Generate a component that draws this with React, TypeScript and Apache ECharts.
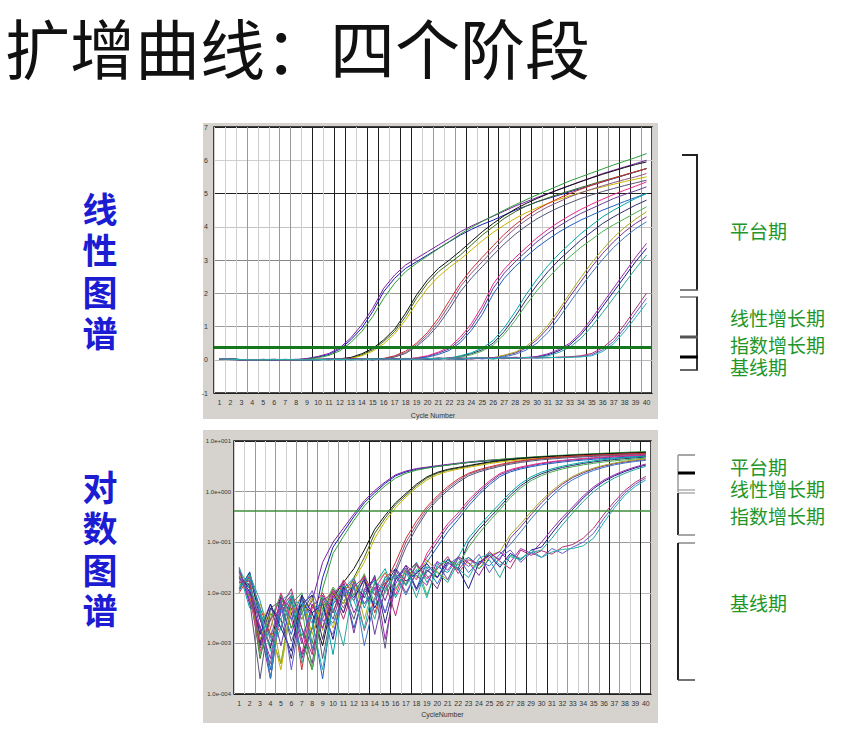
import React, { useEffect, useRef } from "react";
import * as echarts from "echarts";

const cycles = ["1","2","3","4","5","6","7","8","9","10","11","12","13","14","15","16","17","18","19","20","21","22","23","24","25","26","27","28","29","30","31","32","33","34","35","36","37","38","39","40"];

const a1 = [0.025,0.01,0.0009,0.003,0.008,0.004,0.0006,0.002,0.02,0.08,0.16,0.32,0.6,0.95,1.45,2.05,2.45,2.75,2.95,3.15,3.35,3.55,3.75,3.92,4.07,4.2,4.35,4.5,4.62,4.75,4.85,4.95,5.05,5.15,5.25,5.35,5.45,5.55,5.65,5.75];
const a2 = [0.03,0.006,0.002,0.0002,0.005,0.009,0.003,0.007,0.04,0.1,0.19,0.36,0.66,1.05,1.55,2.15,2.55,2.85,3.05,3.25,3.45,3.65,3.85,4.02,4.17,4.32,4.47,4.62,4.75,4.88,5.0,5.12,5.24,5.36,5.48,5.6,5.7,5.8,5.9,6.0];
const a3 = [0.014,0.02,0.004,0.0015,0.0004,0.006,0.01,0.001,0.012,0.06,0.13,0.27,0.52,0.85,1.3,1.85,2.3,2.65,2.9,3.12,3.34,3.56,3.78,3.98,4.16,4.33,4.5,4.66,4.81,4.96,5.1,5.24,5.38,5.5,5.62,5.74,5.86,5.97,6.08,6.2];
const b1 = [0.02,0.012,0.0005,0.004,0.002,0.007,0.0012,0.0003,0.004,0.012,0.006,0.02,0.05,0.15,0.3,0.55,0.85,1.3,1.85,2.3,2.65,2.9,3.15,3.45,3.75,4.0,4.25,4.45,4.62,4.75,4.87,4.98,5.08,5.18,5.28,5.38,5.47,5.56,5.65,5.75];
const b2 = [0.012,0.025,0.003,0.0008,0.009,0.002,0.006,0.004,0.0009,0.008,0.016,0.03,0.07,0.18,0.34,0.6,0.92,1.4,1.95,2.4,2.75,3.0,3.27,3.56,3.85,4.1,4.33,4.53,4.7,4.85,4.99,5.12,5.24,5.36,5.47,5.58,5.68,5.78,5.87,5.95];
const b3 = [0.028,0.008,0.006,0.002,0.0003,0.005,0.008,0.0015,0.007,0.002,0.011,0.018,0.04,0.12,0.26,0.48,0.78,1.2,1.7,2.15,2.5,2.78,3.02,3.3,3.58,3.83,4.05,4.25,4.42,4.57,4.7,4.82,4.93,5.03,5.12,5.2,5.28,5.36,5.43,5.5];
const c1 = [0.018,0.015,0.0012,0.0004,0.006,0.003,0.009,0.0007,0.003,0.012,0.005,0.015,0.0018,0.008,0.02,0.03,0.1,0.22,0.45,0.75,1.15,1.65,2.2,2.6,2.95,3.3,3.65,3.95,4.2,4.42,4.6,4.75,4.9,5.02,5.13,5.23,5.33,5.42,5.5,5.6];
const c2 = [0.01,0.022,0.005,0.0015,0.002,0.008,0.0003,0.005,0.01,0.004,0.018,0.009,0.022,0.004,0.015,0.04,0.12,0.26,0.5,0.82,1.25,1.78,2.3,2.72,3.08,3.43,3.77,4.06,4.31,4.52,4.7,4.86,5.0,5.13,5.25,5.36,5.46,5.56,5.66,5.75];
const c3 = [0.032,0.007,0.0002,0.005,0.007,0.0011,0.004,0.009,0.0005,0.006,0.01,0.003,0.016,0.012,0.0008,0.025,0.08,0.19,0.4,0.68,1.05,1.52,2.05,2.45,2.8,3.15,3.48,3.77,4.02,4.24,4.42,4.58,4.72,4.85,4.96,5.06,5.15,5.24,5.32,5.4];
const d1 = [0.016,0.018,0.002,0.006,0.0009,0.007,0.002,0.0004,0.008,0.003,0.014,0.007,0.02,0.0015,0.012,0.024,0.01,0.025,0.05,0.1,0.2,0.33,0.6,0.98,1.5,2.15,2.6,2.95,3.25,3.55,3.8,4.02,4.22,4.4,4.55,4.7,4.85,4.97,5.08,5.2];
const d2 = [0.022,0.009,0.0007,0.002,0.01,0.003,0.0006,0.006,0.002,0.011,0.004,0.017,0.006,0.012,0.025,0.009,0.03,0.018,0.06,0.12,0.23,0.38,0.68,1.08,1.62,2.28,2.72,3.07,3.37,3.67,3.92,4.14,4.34,4.52,4.68,4.83,4.97,5.1,5.22,5.35];
const d3 = [0.011,0.026,0.004,0.0003,0.005,0.0015,0.008,0.003,0.0002,0.007,0.013,0.002,0.01,0.018,0.004,0.02,0.028,0.012,0.04,0.08,0.16,0.28,0.52,0.88,1.36,1.98,2.45,2.8,3.1,3.38,3.62,3.84,4.03,4.2,4.35,4.5,4.63,4.76,4.88,5.0];
const e1 = [0.02,0.014,0.001,0.005,0.003,0.0005,0.006,0.009,0.0012,0.01,0.004,0.016,0.008,0.022,0.0025,0.018,0.035,0.012,0.028,0.02,0.04,0.03,0.1,0.18,0.3,0.5,0.85,1.3,1.8,2.25,2.65,3.0,3.3,3.6,3.85,4.1,4.3,4.48,4.65,4.8];
const e2 = [0.026,0.005,0.004,0.0002,0.007,0.01,0.0014,0.004,0.007,0.0006,0.012,0.02,0.005,0.015,0.03,0.008,0.022,0.04,0.016,0.033,0.025,0.05,0.12,0.21,0.35,0.58,0.96,1.44,1.96,2.42,2.83,3.18,3.49,3.79,4.05,4.3,4.5,4.68,4.85,5.0];
const e3 = [0.015,0.019,0.0006,0.003,0.009,0.002,0.005,0.0003,0.005,0.013,0.007,0.009,0.024,0.006,0.01,0.027,0.015,0.038,0.009,0.03,0.045,0.035,0.08,0.15,0.26,0.44,0.76,1.18,1.65,2.08,2.46,2.8,3.1,3.38,3.62,3.86,4.06,4.24,4.42,4.6];
const f1 = [0.017,0.011,0.003,0.0009,0.004,0.008,0.0005,0.002,0.009,0.004,0.015,0.0016,0.012,0.019,0.007,0.028,0.014,0.035,0.022,0.012,0.04,0.028,0.05,0.035,0.06,0.045,0.12,0.2,0.35,0.6,0.95,1.4,1.9,2.35,2.8,3.2,3.55,3.85,4.1,4.3];
const f2 = [0.024,0.008,0.0012,0.004,0.0004,0.006,0.003,0.008,0.0018,0.01,0.006,0.02,0.003,0.016,0.025,0.011,0.03,0.02,0.045,0.026,0.018,0.05,0.038,0.03,0.055,0.065,0.14,0.23,0.4,0.67,1.04,1.5,2.0,2.47,2.92,3.32,3.68,3.98,4.23,4.45];
const f3 = [0.013,0.02,0.005,0.0002,0.006,0.003,0.007,0.0008,0.004,0.0025,0.009,0.014,0.0009,0.007,0.018,0.022,0.009,0.026,0.032,0.015,0.036,0.05,0.025,0.042,0.034,0.058,0.09,0.16,0.29,0.5,0.82,1.25,1.72,2.18,2.62,3.02,3.38,3.68,3.94,4.15];
const g1 = [0.019,0.013,0.0015,0.006,0.002,0.0007,0.009,0.004,0.006,0.0012,0.013,0.008,0.018,0.005,0.014,0.03,0.017,0.024,0.038,0.02,0.046,0.03,0.012,0.04,0.055,0.032,0.06,0.045,0.07,0.08,0.15,0.27,0.45,0.75,1.15,1.6,2.05,2.5,2.95,3.35];
const g2 = [0.028,0.007,0.002,0.0005,0.008,0.005,0.001,0.006,0.002,0.009,0.017,0.004,0.011,0.02,0.0012,0.015,0.035,0.022,0.014,0.042,0.028,0.052,0.04,0.022,0.05,0.065,0.04,0.075,0.06,0.1,0.18,0.31,0.5,0.82,1.24,1.7,2.16,2.62,3.08,3.5];
const g3 = [0.012,0.023,0.007,0.0011,0.003,0.009,0.0004,0.002,0.008,0.005,0.0009,0.016,0.01,0.003,0.021,0.012,0.027,0.008,0.033,0.025,0.016,0.04,0.05,0.03,0.045,0.02,0.055,0.048,0.062,0.07,0.12,0.22,0.38,0.64,1.0,1.42,1.86,2.3,2.74,3.15];
const h1 = [0.021,0.009,0.004,0.0013,0.007,0.0003,0.005,0.011,0.003,0.0015,0.01,0.019,0.006,0.013,0.004,0.02,0.031,0.011,0.026,0.04,0.018,0.048,0.033,0.058,0.025,0.05,0.07,0.04,0.062,0.05,0.075,0.06,0.08,0.1,0.15,0.3,0.55,0.95,1.4,1.85];
const h2 = [0.016,0.017,0.0008,0.003,0.005,0.012,0.002,0.0006,0.007,0.01,0.003,0.013,0.021,0.009,0.016,0.0035,0.025,0.038,0.019,0.03,0.052,0.024,0.045,0.036,0.065,0.042,0.03,0.07,0.055,0.068,0.058,0.08,0.09,0.12,0.19,0.36,0.64,1.06,1.53,2.0];
const h3 = [0.03,0.012,0.0045,0.0007,0.002,0.007,0.006,0.0025,0.0003,0.006,0.014,0.007,0.002,0.017,0.011,0.023,0.014,0.029,0.008,0.036,0.044,0.03,0.02,0.048,0.06,0.035,0.052,0.045,0.07,0.05,0.064,0.072,0.075,0.085,0.12,0.25,0.48,0.85,1.27,1.7];

const curves = [a1, a2, a3, b1, b2, b3, c1, c2, c3, d1, d2, d3, e1, e2, e3, f1, f2, f3, g1, g2, g3, h1, h2, h3];

const linearTicks = [-1, 7, 1];
const logTicks = [0.0001, 10];
const thresholdLinear = 0.39;
const thresholdLog = 0.42;

const palette = [
  "#1c1cb0", "#7a1fa2", "#2e9d3a",
  "#3a6b1f", "#111111", "#c8b400",
  "#8a5a8a", "#d22f2f", "#555577",
  "#6a3d9a", "#e7298a", "#1f5fbf",
  "#2c2c70", "#00a6a6", "#4caf50",
  "#7b3294", "#a8a822", "#3b78c4",
  "#1a1a8c", "#9c27b0", "#26a69a",
  "#6a5acd", "#b03070", "#20b2aa",
];

const topDark = [9, 11, 12, 14, 15, 17, 18, 23, 25, 26, 28, 29, 31, 32, 34, 35, 37, 38];
const topMid = [3, 6, 7, 20, 22, 36, 39];
const botDark = [13, 15, 17, 19, 20, 22, 24, 26, 28, 30, 36, 39];
const botMid = [2, 4, 6, 7, 8, 10, 32, 34, 35, 37];

const linearTitleChars = ["线", "性", "图", "谱"];
const linearTitleY = [210, 251, 293, 334];
const logTitleChars = ["对", "数", "图", "谱"];
const logTitleY = [488, 529, 571, 611];

const linearPhases = ["平台期", "线性增长期", "指数增长期", "基线期"];
const linearPhaseY = [232, 319, 346, 368];
const logPhases = ["平台期", "线性增长期", "指数增长期", "基线期"];
const logPhaseY = [468, 490, 517, 604];

function vColors(dark: number[], mid: number[]) {
  const out: string[] = [];
  for (let k = 0; k <= 40; k++) {
    out.push(dark.includes(k) ? "#1e1e1e" : mid.includes(k) ? "#9a9a9a" : "#cfcfcf");
  }
  return out;
}

function logLabel(v: number) {
  const e = Math.round(Math.log10(v));
  const s = e < 0 ? "-" : "+";
  return "1.0e" + s + String(Math.abs(e)).padStart(3, "0");
}

const ln = (x1: number, y1: number, x2: number, y2: number, c: string, w: number) => ({
  type: "line",
  shape: { x1, y1, x2, y2 },
  style: { stroke: c, lineWidth: w },
  silent: true,
});

const greenLabel = (text: string, y: number) => ({
  type: "text",
  x: 730,
  y,
  style: {
    text,
    fontSize: 19,
    lineHeight: 20,
    fontFamily: "Liberation Sans, Noto Sans CJK SC",
    fill: "#23962a",
    verticalAlign: "middle",
    align: "left",
  },
  silent: true,
});

const blueChar = (text: string, y: number) => ({
  type: "text",
  x: 100,
  y,
  style: {
    text,
    fontSize: 35,
    lineHeight: 36,
    fontWeight: "bold",
    fontFamily: "Liberation Sans, Noto Sans CJK SC",
    fill: "#1c1cd2",
    align: "center",
    verticalAlign: "middle",
  },
  silent: true,
});

export default function App() {
  const ref = useRef<HTMLDivElement>(null);
  useEffect(() => {
    if (!ref.current) return;
    const chart = echarts.init(ref.current, null, { renderer: "svg" });
    const axisLabelStyle = { fontSize: 7, color: "#333", fontFamily: "Liberation Sans" };
    const series: any[] = [];
    curves.forEach((c, i) => {
      series.push({
        type: "line",
        xAxisIndex: 0,
        yAxisIndex: 0,
        data: c,
        symbol: "none",
        silent: true,
        lineStyle: { width: 1, color: palette[i] },
        markLine: i === 0 ? {
          symbol: "none",
          silent: true,
          label: { show: false },
          lineStyle: { color: "#16781e", width: 3, type: "solid" },
          data: [{ yAxis: thresholdLinear }],
        } : undefined,
      });
    });
    curves.forEach((c, i) => {
      series.push({
        type: "line",
        xAxisIndex: 2,
        yAxisIndex: 1,
        data: c,
        symbol: "none",
        silent: true,
        lineStyle: { width: 1, color: palette[i] },
        markLine: i === 0 ? {
          symbol: "none",
          silent: true,
          label: { show: false },
          lineStyle: { color: "#3b8f3b", width: 1.5, type: "solid" },
          data: [{ yAxis: thresholdLog }],
        } : undefined,
      });
    });

    const graphics: any[] = [
      { type: "rect", z: -10, shape: { x: 203, y: 123, width: 455, height: 296 }, style: { fill: "#d6d3ce" }, silent: true },
      { type: "rect", z: -10, shape: { x: 203, y: 430, width: 455, height: 293 }, style: { fill: "#d6d3ce" }, silent: true },
      {
        type: "text", x: 5, y: 13,
        style: { text: "扩增曲线：四个阶段", fontSize: 65, fontFamily: "Noto Sans CJK SC", fill: "#111", align: "left", verticalAlign: "top" },
        silent: true,
      },
      ln(682, 155, 698, 155, "#222", 2),
      ln(697, 155, 697, 290, "#222", 2),
      ln(680, 290, 698, 290, "#555", 1.5),
      ln(680, 297, 698, 297, "#777", 1.5),
      ln(697, 297, 697, 370, "#333", 2),
      ln(680, 337, 698, 337, "#555", 3),
      ln(680, 357, 698, 357, "#000", 3),
      ln(680, 370, 698, 370, "#333", 1.5),
      ln(678, 455, 695, 455, "#888", 1.5),
      ln(678, 455, 678, 492, "#999", 1.5),
      ln(678, 473, 695, 473, "#000", 3),
      ln(678, 490, 695, 490, "#999", 1.2),
      ln(678, 493, 695, 493, "#999", 1.2),
      ln(678, 493, 678, 535, "#333", 2),
      ln(678, 535, 695, 535, "#888", 1.5),
      ln(678, 543, 695, 543, "#888", 1.5),
      ln(678, 543, 678, 680, "#222", 2),
      ln(678, 680, 695, 680, "#444", 1.5),
    ];
    linearPhases.forEach((t, i) => graphics.push(greenLabel(t, linearPhaseY[i])));
    logPhases.forEach((t, i) => graphics.push(greenLabel(t, logPhaseY[i])));
    linearTitleChars.forEach((ch, i) => graphics.push(blueChar(ch, linearTitleY[i])));
    logTitleChars.forEach((ch, i) => graphics.push(blueChar(ch, logTitleY[i])));

    chart.setOption({
      animation: false,
      grid: [
        { left: 214, top: 127, width: 438, height: 266, show: true, backgroundColor: "#fff", borderColor: "#111", borderWidth: 1.5 },
        { left: 234, top: 441, width: 417, height: 253, show: true, backgroundColor: "#fff", borderColor: "#111", borderWidth: 1.5 },
      ],
      xAxis: [
        {
          type: "category", gridIndex: 0, data: cycles, boundaryGap: true,
          axisLine: { show: false }, axisTick: { show: false },
          axisLabel: { ...axisLabelStyle, interval: 0, margin: 6 },
          splitLine: { show: false },
          name: "Cycle Number", nameLocation: "middle", nameGap: 19,
          nameTextStyle: { fontSize: 7, color: "#333", fontFamily: "Liberation Sans" },
        },
        {
          type: "value", gridIndex: 0, min: 0, max: 40, interval: 1, position: "top",
          axisLine: { show: false }, axisTick: { show: false }, axisLabel: { show: false },
          splitLine: { show: true, lineStyle: { color: vColors(topDark, topMid), width: 1 } },
        },
        {
          type: "category", gridIndex: 1, data: cycles, boundaryGap: true,
          axisLine: { show: false }, axisTick: { show: false },
          axisLabel: { ...axisLabelStyle, interval: 0, margin: 6 },
          splitLine: { show: false },
          name: "CycleNumber", nameLocation: "middle", nameGap: 17,
          nameTextStyle: { fontSize: 7, color: "#333", fontFamily: "Liberation Sans" },
        },
        {
          type: "value", gridIndex: 1, min: 0, max: 40, interval: 1, position: "top",
          axisLine: { show: false }, axisTick: { show: false }, axisLabel: { show: false },
          splitLine: { show: true, lineStyle: { color: vColors(botDark, botMid), width: 1 } },
        },
      ],
      yAxis: [
        {
          type: "value", gridIndex: 0, min: linearTicks[0], max: linearTicks[1], interval: linearTicks[2],
          axisLine: { show: false }, axisTick: { show: false },
          axisLabel: { ...axisLabelStyle, margin: 6 },
          splitLine: { show: true, lineStyle: { color: ["#222", "#bbb", "#999", "#999", "#888", "#c4c4c4", "#1e1e1e", "#cfcfcf", "#222"], width: 1 } },
        },
        {
          type: "log", gridIndex: 1, min: logTicks[0], max: logTicks[1], logBase: 10,
          axisLine: { show: false }, axisTick: { show: false },
          axisLabel: { ...axisLabelStyle, fontSize: 6, margin: 3, formatter: logLabel },
          splitLine: { show: true, lineStyle: { color: ["#222", "#999", "#bbb", "#999", "#999", "#222"], width: 1 } },
        },
      ],
      series,
      graphic: graphics,
    });
    return () => chart.dispose();
  }, []);
  return (
    <div
      ref={ref}
      style={{ position: "fixed", left: 0, top: 0, width: 866, height: 737, background: "#fff" }}
    />
  );
}
